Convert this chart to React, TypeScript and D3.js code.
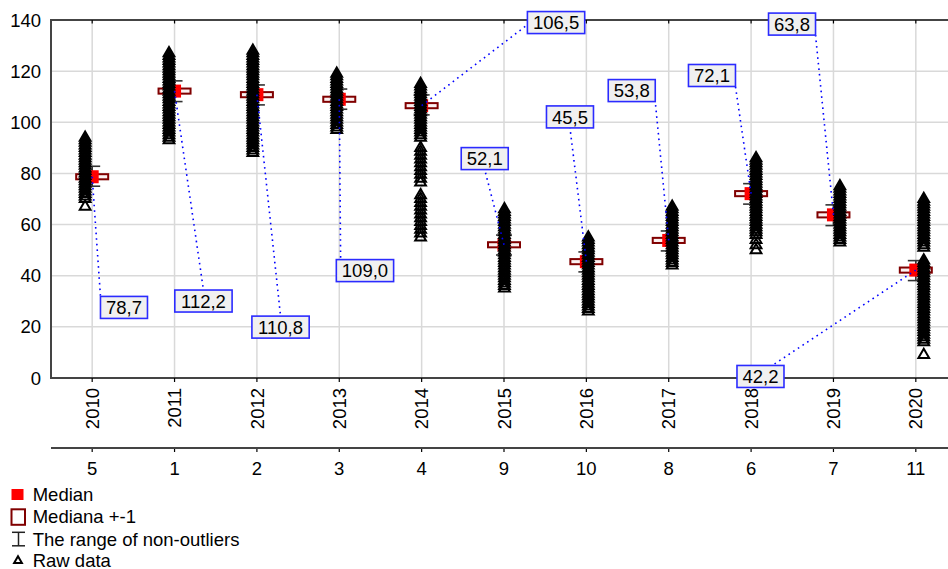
import React from 'react';
import * as d3 from 'd3';

const years = ['2010', '2011', '2012', '2013', '2014', '2015', '2016', '2017', '2018', '2019', '2020'];
const ranks = ['5', '1', '2', '3', '4', '9', '10', '8', '6', '7', '11'];
const medians = [78.7, 112.2, 110.8, 109.0, 106.5, 52.1, 45.5, 53.8, 72.1, 63.8, 42.2];
const whiskerHigh = [82.8, 116.2, 114.6, 113.0, 110.7, 55.9, 49.3, 57.5, 76.0, 67.7, 45.9];
const whiskerLow = [75.0, 108.1, 106.8, 105.1, 102.9, 48.1, 41.5, 49.7, 68.0, 59.6, 38.1];
const yTicks = [0, 20, 40, 60, 80, 100, 120, 140];

const raw2010 = [67, 70, 71, 72, 73, 74, 75, 76, 77, 78, 79, 80, 81, 82, 83, 84, 85, 86, 87, 88, 89, 90, 91, 92, 93, 94];
const raw2011 = [93, 94, 95, 96, 97, 98, 99, 100, 101, 102, 103, 104, 105, 106, 107, 108, 109, 110, 111, 112, 113, 114, 115, 116, 117, 118, 119, 120, 121, 122, 123, 124, 125, 126, 127];
const raw2012 = [88, 89, 90, 91, 92, 93, 94, 95, 96, 97, 98, 99, 100, 101, 102, 103, 104, 105, 106, 107, 108, 109, 110, 111, 112, 113, 114, 115, 116, 117, 118, 119, 120, 121, 122, 123, 124, 125, 126, 127, 128];
const raw2013 = [97, 98, 99, 100, 101, 102, 103, 104, 105, 106, 107, 108, 109, 110, 111, 112, 113, 114, 115, 116, 117, 118, 119];
const raw2014 = [55, 56.5, 58, 59.5, 61, 62.5, 64, 65.5, 67, 68.5, 70, 71.5, 76.5, 78, 79.5, 81, 82.5, 84, 85.5, 87, 88.5, 90, 94, 95, 96, 97, 98, 99, 100, 101, 102, 103, 104, 105, 106, 107, 108, 109, 110, 111, 112, 113, 114, 115];
const raw2015 = [35, 36, 37, 38, 39, 40, 41, 42, 43, 44, 45, 46, 47, 48, 49, 50, 51, 52, 53, 54, 55, 56, 57, 58, 59, 60, 61, 62, 63, 64, 65, 66];
const raw2016 = [26, 27, 28, 29, 30, 31, 32, 33, 34, 35, 36, 37, 38, 39, 40, 41, 42, 43, 44, 45, 46, 47, 48, 49, 50, 51, 52, 53, 54, 55];
const raw2017 = [44, 45, 46, 47, 48, 49, 50, 51, 52, 53, 54, 55, 56, 57, 58, 59, 60, 61, 62, 63, 64, 65, 66, 67];
const raw2018 = [50, 52, 54, 56, 57, 58, 59, 60, 61, 62, 63, 64, 65, 66, 67, 68, 69, 70, 71, 72, 73, 74, 75, 76, 77, 78, 79, 80, 81, 82, 83, 84, 85, 86];
const raw2019 = [53, 54, 55, 56, 57, 58, 59, 60, 61, 62, 63, 64, 65, 66, 67, 68, 69, 70, 71, 72, 73, 74, 75];
const raw2020 = [9, 14, 15, 16, 17, 18, 19, 20, 21, 22, 23, 24, 25, 26, 27, 28, 29, 30, 31, 32, 33, 34, 35, 36, 37, 38, 39, 40, 41, 42, 43, 44, 45, 46, 51, 52, 53, 54, 55, 56, 57, 58, 59, 60, 61, 62, 63, 64, 65, 66, 67, 68, 69, 70];
const rawData = [raw2010, raw2011, raw2012, raw2013, raw2014, raw2015, raw2016, raw2017, raw2018, raw2019, raw2020];

// annotation placement: label centre in (band steps from category, value), leader anchor on the box
const labelStep = [0.386, 0.351, 0.287, 0.312, 1.632, -0.234, -0.199, -0.449, -0.475, -0.503, -1.886];
const labelValue = [27.6, 30.1, 19.9, 42.0, 139.0, 85.8, 102.1, 112.4, 118.3, 138.4, 0.6];
const anchorX = [-1, 0, 0, -0.85, -1, 0, 0, 1, 1, 1, 0.5];
const anchorY = [-1, -1, -1, -1, 0.2, 1, 1, 1, 1, 1, -1];

const legendItems = ['Median', 'Mediana +-1', 'The range of non-outliers', 'Raw data'];

const FONT = '"Liberation Sans", Arial, Helvetica, sans-serif';
const FS = 18.5;

function textWidth(s: string) {
  let w = 0;
  for (const c of s) w += c === ',' ? 0.278 : 0.556;
  return w * FS;
}

export default function App() {
  const W = 948, H = 569;
  const left = 51, top = 20, bottom = 378;
  const x = d3.scaleBand<string>().domain(years).range([left, 957]).padding(0);
  const step = x.step();
  const cx = (i: number) => (x(years[i]) as number) + x.bandwidth() / 2;
  const y = d3.scaleLinear().domain([0, 140]).range([bottom, top]);
  const triPath = d3.symbol(d3.symbolTriangle, 50)() as string;
  const legendTri = d3.symbol(d3.symbolTriangle, 26)() as string;
  const fmt = (v: number) => v.toFixed(1).replace('.', ',');
  const grid = '#d9d9d9';
  const axis = '#444';
  const legendY = [494.5, 516.8, 539.3, 560.8];

  return (
    <svg width={W} height={H} style={{ position: 'absolute', left: 0, top: 0, background: '#fff' }} fontFamily={FONT}>
      <rect x={0} y={0} width={W} height={H} fill="#fff" />
      {/* gridlines */}
      {yTicks.map((t) => (
        <line key={'gy' + t} x1={left} x2={W} y1={y(t)} y2={y(t)} stroke={grid} strokeWidth={1.5} />
      ))}
      {years.map((yr, i) => (
        <line key={'gx' + yr} x1={cx(i)} x2={cx(i)} y1={top} y2={bottom} stroke={grid} strokeWidth={1.5} />
      ))}
      {/* axes */}
      <line x1={left} x2={W} y1={top} y2={top} stroke={axis} strokeWidth={2} />
      <line x1={left} x2={W} y1={bottom} y2={bottom} stroke={axis} strokeWidth={2} />
      <line x1={left} x2={left} y1={top - 1} y2={bottom + 1} stroke={axis} strokeWidth={2} />
      {years.map((yr, i) => (
        <g key={'tk' + yr}>
          <line x1={cx(i)} x2={cx(i)} y1={top} y2={top + 3.5} stroke="#000" strokeWidth={1.2} />
          <line x1={cx(i)} x2={cx(i)} y1={bottom} y2={bottom + 4} stroke="#000" strokeWidth={1.2} />
          <line x1={cx(i)} x2={cx(i)} y1={448} y2={452} stroke="#000" strokeWidth={1.2} />
        </g>
      ))}
      {yTicks.map((t) => (
        <text key={'yl' + t} x={41} y={y(t) + 6.6} textAnchor="end" fontSize={FS} fill="#000">{t}</text>
      ))}
      {years.map((yr, i) => (
        <text key={'xl' + yr} transform={`translate(${cx(i) + 6.6},388) rotate(-90)`} textAnchor="end" fontSize={FS} fill="#000">{yr}</text>
      ))}
      <line x1={left} x2={W} y1={448} y2={448} stroke={axis} strokeWidth={2} />
      {ranks.map((r, i) => (
        <text key={'rk' + i} x={cx(i)} y={474.5} textAnchor="middle" fontSize={FS} fill="#000">{r}</text>
      ))}
      {/* boxes: median +-1 */}
      {medians.map((m, i) => (
        <rect key={'bx' + i} x={cx(i) - 16} y={y(m + 1)} width={32} height={y(m - 1) - y(m + 1)} fill="#fbf1f1" stroke="#800000" strokeWidth={2} />
      ))}
      {/* whiskers */}
      {medians.map((m, i) => (
        <g key={'wh' + i} stroke="#333" strokeWidth={1.6}>
          <line x1={cx(i)} x2={cx(i)} y1={y(whiskerHigh[i])} y2={y(whiskerLow[i])} />
          <line x1={cx(i) - 8} x2={cx(i) + 8} y1={y(whiskerHigh[i])} y2={y(whiskerHigh[i])} />
          <line x1={cx(i) - 8} x2={cx(i) + 8} y1={y(whiskerLow[i])} y2={y(whiskerLow[i])} />
        </g>
      ))}
      {/* medians */}
      {medians.map((m, i) => (
        <rect key={'md' + i} x={cx(i) - 6.5} y={y(m) - 6.5} width={13} height={13} fill="#ff0000" />
      ))}
      {/* raw data */}
      {rawData.map((vals, i) => (
        <g key={'rw' + i}>
          {vals.map((v, j) => (
            <path key={j} d={triPath} transform={`translate(${cx(i) + (i - 4.7) * 1.5},${y(v)})`} fill="none" stroke="#000" strokeWidth={2} />
          ))}
        </g>
      ))}
      {/* leader lines and labels */}
      {medians.map((m, i) => {
        const txt = fmt(m);
        const w = textWidth(txt) + 11;
        const h = 22;
        const lx = cx(i) + labelStep[i] * step;
        const ly = y(labelValue[i]);
        const ax = lx + anchorX[i] * w / 2;
        const ay = ly + anchorY[i] * h / 2;
        return (
          <line key={'ld' + i} x1={cx(i)} y1={y(m)} x2={ax} y2={ay} stroke="#0000ff" strokeWidth={1.6} strokeDasharray="1.6 4" />
        );
      })}
      {medians.map((m, i) => {
        const txt = fmt(m);
        const w = textWidth(txt) + 11;
        const h = 22;
        const lx = cx(i) + labelStep[i] * step;
        const ly = y(labelValue[i]);
        return (
          <g key={'lb' + i}>
            <rect x={lx - w / 2} y={ly - h / 2} width={w} height={h} fill="#f0f0f0" stroke="#2b2bff" strokeWidth={1.6} />
            <text x={lx} y={ly + 6.6} textAnchor="middle" fontSize={FS} fill="#000">{txt}</text>
          </g>
        );
      })}
      {/* legend */}
      <rect x={11.5} y={legendY[0] - 5.5} width={12} height={11} fill="#ff0000" />
      <rect x={11.5} y={legendY[1] - 7.5} width={13.5} height={15.5} fill="#fff" stroke="#800000" strokeWidth={2} />
      <g stroke="#222" strokeWidth={1.5}>
        <line x1={12} x2={25} y1={legendY[2] - 7} y2={legendY[2] - 7} />
        <line x1={12} x2={25} y1={legendY[2] + 6.5} y2={legendY[2] + 6.5} />
        <line x1={18.5} x2={18.5} y1={legendY[2] - 7} y2={legendY[2] + 6.5} />
      </g>
      <path d={legendTri} transform={`translate(18,${legendY[3]})`} fill="none" stroke="#000" strokeWidth={2} />
      {legendItems.map((t, k) => (
        <text key={'lg' + k} x={32.7} y={legendY[k] + 6.6} fontSize={FS} fill="#000">{t}</text>
      ))}
    </svg>
  );
}
